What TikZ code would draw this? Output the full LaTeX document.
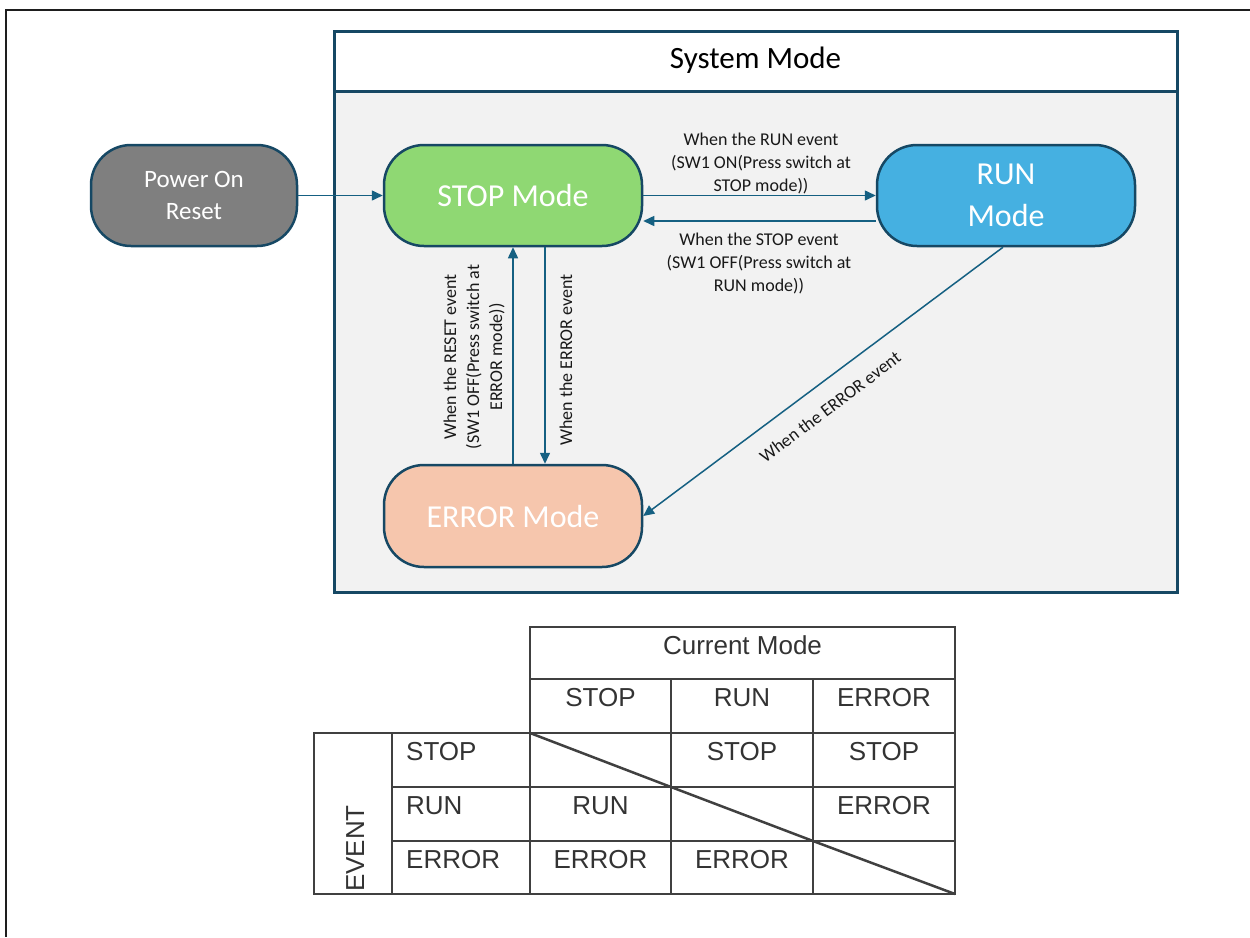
\documentclass[tikz,border=0pt]{standalone}
\usepackage{fontspec}
\setmainfont{Carlito}
\newfontfamily\tblfont{Liberation Sans}
\usetikzlibrary{arrows.meta}
\definecolor{frameline}{RGB}{30,30,30}
\definecolor{edge}{RGB}{22,72,100}
\definecolor{wire}{RGB}{21,96,130}
\definecolor{panel}{RGB}{242,242,242}
\definecolor{stopfill}{RGB}{143,216,115}
\definecolor{runfill}{RGB}{69,176,225}
\definecolor{errfill}{RGB}{246,198,173}
\definecolor{pwrfill}{RGB}{127,127,127}
\definecolor{tblline}{RGB}{64,64,64}
\definecolor{tbltext}{RGB}{51,51,51}

\begin{document}
\begin{tikzpicture}[x=1pt,y=-1pt,
  state/.style={draw=edge, line width=2.5pt, rounded corners=40pt,
    minimum width=258pt, minimum height=101pt, text=white, align=center,
    inner sep=0pt, font=\fontsize{32}{42}\selectfont},
  arr/.style={draw=wire, line width=1.5pt, -{Triangle[length=11pt,width=10pt]}},
  lbl/.style={align=center, font=\fontsize{18}{23}\selectfont,
    text=black!90, inner sep=0pt},
  tbl/.style={draw=tblline, line width=2.5pt},
  cell/.style={anchor=base, inner sep=0pt, text=tbltext,
    font=\tblfont\fontsize{26}{30}\selectfont}]

\useasboundingbox (0,0) rectangle (1250,937);

% page frame
\draw[frameline, line width=2pt] (1250,10) -- (6,10) -- (6,937);

% system mode panel
\draw[edge, line width=3pt, fill=white] (334,31) rectangle (1177,592);
\fill[panel] (334,91) rectangle (1177,592);
\draw[edge, line width=3pt] (334,31) rectangle (1177,592);
\draw[edge, line width=3pt] (334,91) -- (1177,91);
\node[font=\fontsize{31}{36}\selectfont] (systitle) at (755.5,60) {System Mode};

% states
\node[state, fill=pwrfill, minimum width=206pt, font=\fontsize{25}{32}\selectfont]
  (pwr) at (194,195.5) {Power On\\Reset};
\node[state, fill=stopfill] (stop) at (513,195.5) {STOP Mode};
\node[state, fill=runfill] (run) at (1006,195.5) {RUN\\Mode};
\node[state, fill=errfill, minimum height=102pt] (err) at (513,516) {ERROR Mode};

% transitions
\draw[arr] (pwr.east) -- (stop.west);
\draw[arr] (stop.east) -- (run.west);
\draw[arr] ([yshift=-25.5pt]run.west) -- ([yshift=-25.5pt]stop.east);
\draw[arr] (err.north) -- (stop.south);
\draw[arr] ([xshift=32pt]stop.south) -- ([xshift=32pt]err.north);
\draw[arr] ([xshift=-3pt]run.south) -- (err.east);

% transition labels
\node[lbl] (lrun) at (761,163) {When the RUN event\\(SW1 ON(Press switch at\\STOP mode))};
\node[lbl] (lstop) at (759,263) {When the STOP event\\(SW1 OFF(Press switch at\\RUN mode))};
\node[lbl, rotate=90] (lreset) at (474,357) {When the RESET event\\(SW1 OFF(Press switch at\\ERROR mode))};
\node[lbl, rotate=90] (lerr1) at (566,360) {When the ERROR event};
\node[lbl, rotate=37] (lerr2) at (830,407) {When the ERROR event};

% transition table grid
\draw[tbl] (530,627) -- (955,627) -- (955,894) -- (314,894) -- (314,733)
  -- (530,733) -- cycle;
\draw[tbl] (530,679) -- (955,679);
\draw[tbl] (530,733) -- (955,733);
\draw[tbl] (392,787) -- (955,787);
\draw[tbl] (392,841) -- (955,841);
\draw[tbl] (392,733) -- (392,894);
\draw[tbl] (530,733) -- (530,894);
\draw[tbl] (671,679) -- (671,894);
\draw[tbl] (813,679) -- (813,894);
\draw[tbl] (530,733) -- (671,787);
\draw[tbl] (671,787) -- (813,841);
\draw[tbl] (813,841) -- (955,894);

% table texts
\node[cell] (thead) at (742.5,654) {Current Mode};
\node[cell] (hstop) at (600.5,706) {STOP};
\node[cell] (hrun) at (742,706) {RUN};
\node[cell] (herr) at (884,706) {ERROR};
\node[cell, anchor=base west] (estop) at (406,760) {STOP};
\node[cell, anchor=base west] (erun) at (406,814) {RUN};
\node[cell, anchor=base west] (eerr) at (406,868) {ERROR};
\node[cell] (c12) at (742,760) {STOP};
\node[cell] (c13) at (884,760) {STOP};
\node[cell] (c21) at (600.5,814) {RUN};
\node[cell] (c23) at (884,814) {ERROR};
\node[cell] (c31) at (600.5,868) {ERROR};
\node[cell] (c32) at (742,868) {ERROR};
\node[cell, anchor=base west, rotate=90] (evt) at (364,892) {EVENT};

\end{tikzpicture}
\end{document}
